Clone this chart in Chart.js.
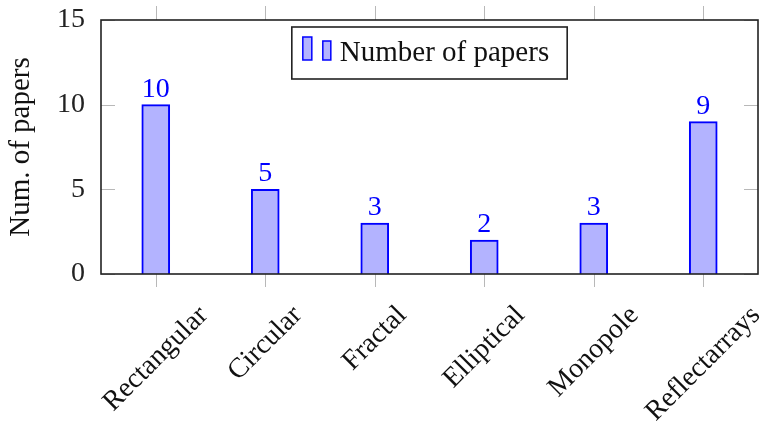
<!DOCTYPE html>
<html>
<head>
<meta charset="utf-8">
<script src="https://cdn.jsdelivr.net/npm/chart.js@4"></script>
<style>
  html, body { margin: 0; padding: 0; background: #fff; }
  #wrap { width: 764px; height: 430px; }
</style>
</head>
<body>
<div id="wrap"><canvas id="barChart"></canvas></div>
<script>
// data
const categories = ["Rectangular", "Circular", "Fractal", "Elliptical", "Monopole", "Reflectarrays"];
const paperCounts = [10, 5, 3, 2, 3, 9];
const yTicks = [0, 5, 10, 15];
const seriesLabel = "Number of papers";
const yTitle = "Num. of papers";

const SERIF = "'Liberation Serif', 'DejaVu Serif', serif";
const BLUE = "#0000ff";
const FILL = "rgb(179, 179, 255)";
const TICK_GRAY = "#b8b8b8";

// draws frame, tick marks, rotated labels, value labels and the boxed legend
const decorations = {
  id: "decorations",
  afterDatasetsDraw(chart) {
    const { ctx, chartArea: a, scales } = chart;
    const x = scales.x, y = scales.y;
    ctx.save();

    // tick marks
    ctx.strokeStyle = TICK_GRAY;
    ctx.lineWidth = 1;
    yTicks.forEach((v) => {
      const py = Math.round(y.getPixelForValue(v)) + 0.5;
      ctx.beginPath();
      ctx.moveTo(a.left, py); ctx.lineTo(a.left + 14, py);
      ctx.moveTo(a.right, py); ctx.lineTo(a.right - 14, py);
      ctx.stroke();
    });
    categories.forEach((c, i) => {
      const px = Math.round(x.getPixelForValue(i)) + 0.5;
      ctx.beginPath();
      ctx.moveTo(px, a.bottom); ctx.lineTo(px, a.bottom + 13);
      ctx.moveTo(px, a.top); ctx.lineTo(px, a.top - 14);
      ctx.stroke();
    });

    // frame
    ctx.strokeStyle = "#222";
    ctx.lineWidth = 1.6;
    ctx.strokeRect(a.left, a.top, a.right - a.left, a.bottom - a.top);

    // rotated category labels, centred under each tick
    ctx.fillStyle = "#111";
    ctx.font = "28px " + SERIF;
    ctx.textAlign = "center";
    ctx.textBaseline = "middle";
    categories.forEach((c, i) => {
      const px = x.getPixelForValue(i);
      const w = ctx.measureText(c).width;
      const cy = a.bottom + 30 + (w + 20) * 0.3536;
      ctx.save();
      ctx.translate(px, cy);
      ctx.rotate(-Math.PI / 4);
      ctx.fillText(c, 0, 0);
      ctx.restore();
    });

    // value labels above bars
    ctx.fillStyle = BLUE;
    ctx.textBaseline = "alphabetic";
    chart.getDatasetMeta(0).data.forEach((bar, i) => {
      ctx.fillText(String(paperCounts[i]), bar.x, bar.y - 8);
    });

    // legend box
    ctx.font = "29px " + SERIF;
    const tw = ctx.measureText(seriesLabel).width;
    const boxW = tw + 66, boxH = 52;
    const bx = (a.left + a.right) / 2 - boxW / 2 - 0, by = a.top + 7;
    ctx.fillStyle = "#fff";
    ctx.fillRect(bx, by, boxW, boxH);
    ctx.strokeStyle = "#222";
    ctx.lineWidth = 1.6;
    ctx.strokeRect(bx, by, boxW, boxH);
    ctx.fillStyle = FILL;
    ctx.strokeStyle = BLUE;
    ctx.lineWidth = 1.5;
    ctx.fillRect(bx + 11, by + 10, 9, 23); ctx.strokeRect(bx + 11, by + 10, 9, 23);
    ctx.fillRect(bx + 31, by + 14, 8, 19); ctx.strokeRect(bx + 31, by + 14, 8, 19);
    ctx.fillStyle = "#111";
    ctx.textAlign = "left";
    ctx.textBaseline = "middle";
    ctx.fillText(seriesLabel, bx + 48, by + boxH / 2);

    ctx.restore();
  }
};

const config = {
  type: "bar",
  data: {
    labels: categories,
    datasets: [
      {
        label: seriesLabel,
        data: paperCounts,
        backgroundColor: FILL,
        borderColor: BLUE,
        borderWidth: 2,
        barThickness: 28,
      },
    ],
  },
  options: {
    responsive: true,
    maintainAspectRatio: false,
    animation: false,
    layout: { padding: { top: 20, right: 6, left: 0, bottom: 0 } },
    plugins: {
      legend: { display: false },
      tooltip: { enabled: false },
    },
    scales: {
      x: {
        grid: { display: false },
        border: { display: false },
        ticks: { display: false },
        afterFit: (s) => { s.height = 156; },
      },
      y: {
        min: 0,
        max: 15,
        grid: { display: false },
        border: { display: false },
        ticks: {
          stepSize: 5,
          color: "#222",
          padding: 8,
          font: { family: SERIF, size: 28 },
        },
        title: {
          display: true,
          text: yTitle,
          color: "#111",
          padding: { top: 4, bottom: 0 },
          font: { family: SERIF, size: 29 },
        },
        afterFit: (s) => {
          s.width = 101;
          s.paddingTop = 0;
          s.paddingBottom = 0;
        },
      },
    },
  },
  plugins: [decorations],
};

new Chart(document.getElementById("barChart"), config);
</script>
</body>
</html>
